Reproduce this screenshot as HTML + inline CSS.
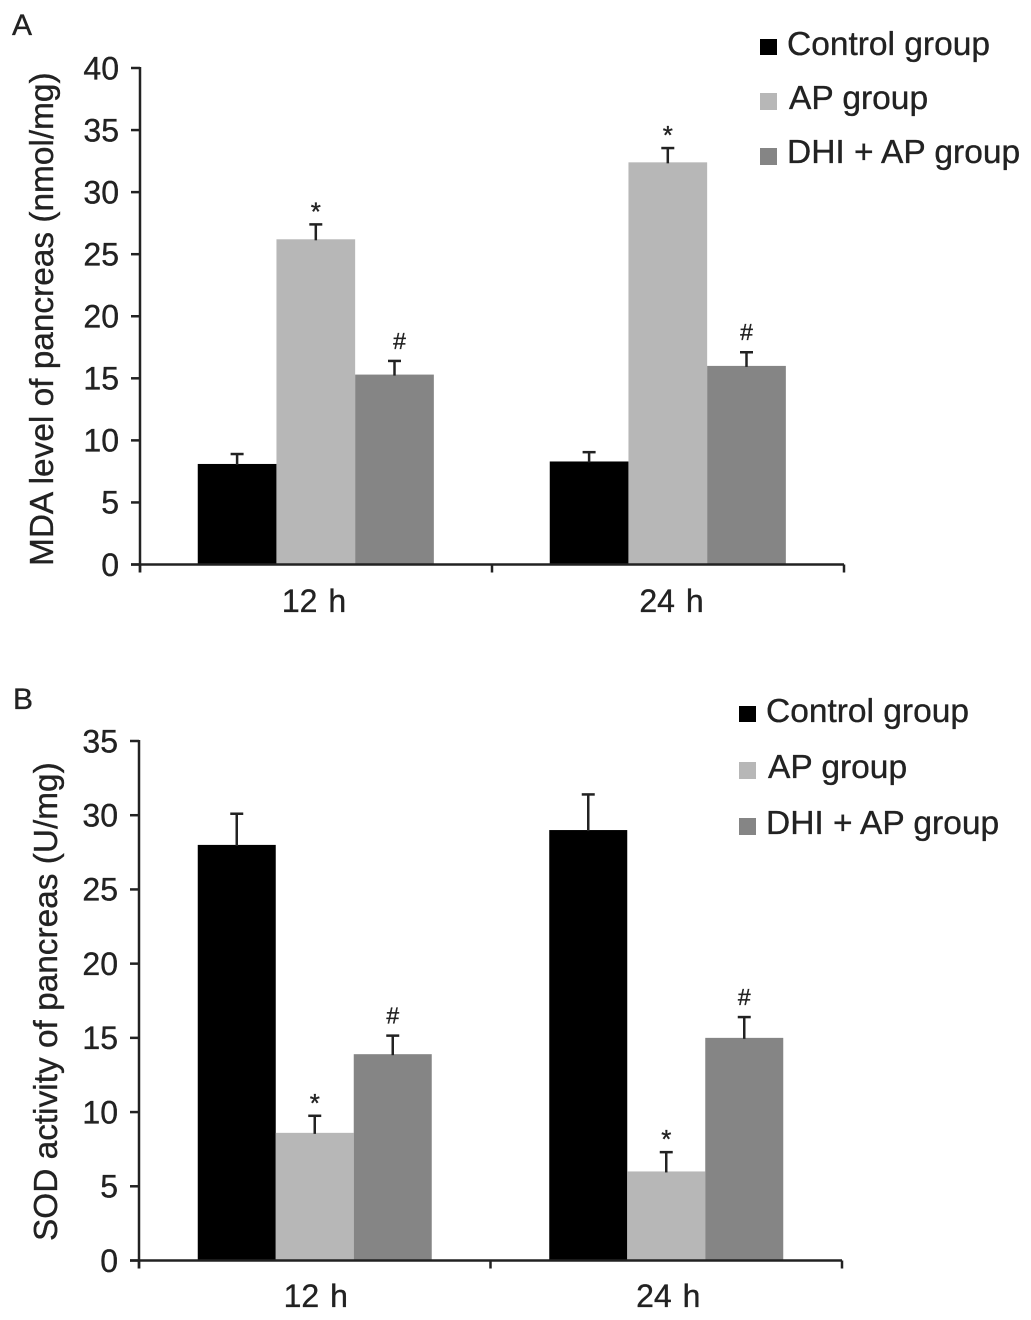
<!DOCTYPE html>
<html lang="en">
<head>
<meta charset="utf-8">
<title>MDA level and SOD activity of pancreas</title>
<style>
  html, body { margin: 0; padding: 0; background: #fff; }
  svg { display: block; font-family: "Liberation Sans", Arial, sans-serif; fill: #222; }
  svg text { stroke: #222; stroke-width: 0.35px; }
</style>
</head>
<body>
<svg id="figure" xmlns="http://www.w3.org/2000/svg" width="1031" height="1320" viewBox="0 0 1031 1320">
  <rect x="0" y="0" width="1031" height="1320" fill="#fff"/>
  <text x="12" y="35" font-size="30">A</text>
  <text x="13" y="709" font-size="30">B</text>

  <text font-size="33.4" transform="translate(53,566) rotate(-90)">MDA level of pancreas (nmol/mg)</text>
  <text font-size="33.4" transform="translate(57,1241) rotate(-90)">SOD activity of pancreas (U/mg)</text>

  <g font-size="33.5">
    <rect x="760" y="39" width="17" height="16" fill="#000"/>
    <text x="787" y="55">Control group</text>
    <rect x="760" y="93" width="17" height="17" fill="#b7b7b7"/>
    <text x="789" y="109">AP group</text>
    <rect x="760" y="148" width="17" height="17" fill="#858585"/>
    <text x="787" y="163">DHI + AP group</text>
  </g>
  <g font-size="33.5">
    <rect x="739" y="706" width="17" height="16" fill="#000"/>
    <text x="766" y="722">Control group</text>
    <rect x="739" y="762" width="17" height="17" fill="#b7b7b7"/>
    <text x="768" y="778">AP group</text>
    <rect x="739" y="818" width="17" height="17" fill="#858585"/>
    <text x="766" y="834">DHI + AP group</text>
  </g>
</svg>
<script>
// Shared categories
const categories = ["12 h", "24 h"];
const seriesNames = ["control", "ap", "dhi"];
const seriesColors = ["#000000", "#b7b7b7", "#858585"];

// Panel A: MDA level of pancreas (nmol/mg)
const mdaTicks = [0, 5, 10, 15, 20, 25, 30, 35, 40];
const mdaControl = [8.1, 8.3];
const mdaAp = [26.2, 32.4];
const mdaDhi = [15.3, 16.0];
const mdaControlErr = [0.8, 0.75];
const mdaApErr = [1.2, 1.15];
const mdaDhiErr = [1.1, 1.1];
const mdaControlMarks = ["", ""];
const mdaApMarks = ["*", "*"];
const mdaDhiMarks = ["#", "#"];

// Panel B: SOD activity of pancreas (U/mg)
const sodTicks = [0, 5, 10, 15, 20, 25, 30, 35];
const sodControl = [28.0, 29.0];
const sodAp = [8.6, 6.0];
const sodDhi = [13.9, 15.0];
const sodControlErr = [2.1, 2.4];
const sodApErr = [1.15, 1.3];
const sodDhiErr = [1.25, 1.4];
const sodControlMarks = ["", ""];
const sodApMarks = ["*", "*"];
const sodDhiMarks = ["#", "#"];

const svg = document.getElementById('figure');
const NS = 'http://www.w3.org/2000/svg';

function make(tag, attrs, parent) {
  const el = document.createElementNS(NS, tag);
  for (const key in attrs) el.setAttribute(key, attrs[key]);
  parent.appendChild(el);
  return el;
}

function drawPanel(layout, ticks, values, errors, marks) {
  const maxTick = ticks[ticks.length - 1];
  const y = v => layout.y0 - (v / maxTick) * (layout.y0 - layout.yTop);
  const groupWidth = (layout.x1 - layout.x0) / categories.length;
  const barWidth = layout.barWidth;
  const barX = (c, s) => layout.x0 + groupWidth * c + (groupWidth - barWidth * seriesNames.length) / 2 + barWidth * s + layout.barShift;

  const root = make('g', {}, svg);
  
  

  // bars and error bars
  seriesNames.forEach((series, s) => {
    categories.forEach((cat, c) => {
      const top = y(values[s][c]);
      const bar = make('rect', {
        x: barX(c, s), y: top, width: barWidth, height: layout.y0 - top, fill: seriesColors[s]
      }, root);
      
      

      const cx = barX(c, s) + barWidth / 2;
      const errTop = y(values[s][c] + errors[s][c]);
      const stem = make('line', {
        x1: cx, x2: cx, y1: top + 1, y2: errTop, stroke: '#222', 'stroke-width': 2.5
      }, root);
      
      
      const cap = make('line', {
        x1: cx - 6.5, x2: cx + 6.5, y1: errTop, y2: errTop, stroke: '#222', 'stroke-width': 2.5
      }, root);
      
      

      const mark = marks[s][c];
      if (mark) {
        const sig = make('text', {
          x: cx + (layout.markNudge && s === 2 ? layout.markNudge[c] : 0),
          y: errTop - (mark === '#' ? 12 : 4),
          'font-size': mark === '#' ? 23 : 26,
          'text-anchor': 'middle'
        }, root);
        sig.textContent = mark;
        
        
      }
    });
  });

  // y axis
  const yAxis = make('line', {
    x1: layout.x0, x2: layout.x0, y1: layout.yTop - 1, y2: layout.y0 + 8, stroke: '#222', 'stroke-width': 2.5
  }, root);
  
  

  ticks.forEach(t => {
    const tick = make('line', {
      x1: layout.x0 - 9, x2: layout.x0, y1: y(t), y2: y(t), stroke: '#222', 'stroke-width': 2.5
    }, root);
    
    
    const label = make('text', {
      x: layout.x0 - 21, y: y(t) + 11.3, 'font-size': 32, 'text-anchor': 'end'
    }, root);
    label.textContent = t;
    
    
  });

  // x axis
  const xAxis = make('line', {
    x1: layout.x0 - 9, x2: layout.x1, y1: layout.y0, y2: layout.y0, stroke: '#222', 'stroke-width': 2.5
  }, root);
  
  

  for (let i = 0; i <= categories.length; i++) {
    const tx = layout.x0 + groupWidth * i;
    const tick = make('line', {
      x1: tx, x2: tx, y1: layout.y0, y2: layout.y0 + 8, stroke: '#222', 'stroke-width': 2.5
    }, root);
    
    
  }

  categories.forEach((cat, c) => {
    const label = make('text', {
      x: layout.x0 + groupWidth * (c + 0.5) + layout.labelShift[c],
      y: layout.labelY, 'font-size': 32, 'word-spacing': '2px', 'text-anchor': 'middle'
    }, root);
    label.textContent = cat;
    
    
  });
}

drawPanel(
  { name: 'panel-a-chart', x0: 140, x1: 844, y0: 564.5, yTop: 68, barWidth: 78.7, barShift: -0.2, labelY: 612, labelShift: [-2, 3.5], markNudge: [5, 0] },
  mdaTicks,
  [mdaControl, mdaAp, mdaDhi],
  [mdaControlErr, mdaApErr, mdaDhiErr],
  [mdaControlMarks, mdaApMarks, mdaDhiMarks]
);

drawPanel(
  { name: 'panel-b-chart', x0: 139, x1: 842, y0: 1260.5, yTop: 741, barWidth: 78, barShift: 0, labelY: 1307, labelShift: [1, 2] },
  sodTicks,
  [sodControl, sodAp, sodDhi],
  [sodControlErr, sodApErr, sodDhiErr],
  [sodControlMarks, sodApMarks, sodDhiMarks]
);
</script>
</body>
</html>
